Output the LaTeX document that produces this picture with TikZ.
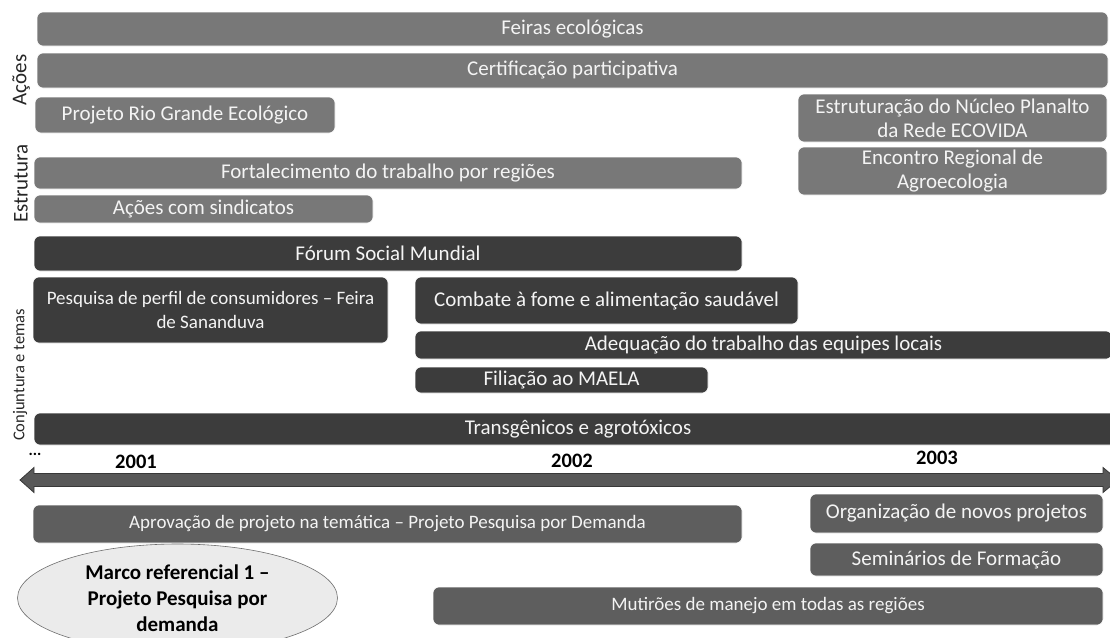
\documentclass[tikz,border=0pt]{standalone}
\usepackage{fontspec}
\setmainfont{Carlito}
\usetikzlibrary{shapes.geometric}

\definecolor{barmid}{HTML}{787878}
\definecolor{bardark}{HTML}{3C3C3C}
\definecolor{barlow}{HTML}{5E5E5E}
\definecolor{bartext}{HTML}{F4F4F4}
\definecolor{axisfill}{HTML}{585858}
\definecolor{axisline}{HTML}{383838}
\definecolor{markfill}{HTML}{EBEBEB}
\definecolor{markline}{HTML}{6E6E6E}

\begin{document}
\begin{tikzpicture}[x=1pt,y=-1pt,
  bar/.style={rectangle, rounded corners=6pt, draw=white, line width=0.6pt,
    inner sep=0pt, text=bartext, align=center,
    font=\fontsize{21}{24}\selectfont},
  smalltext/.style={font=\fontsize{19}{24}\selectfont},
  midbar/.style={bar, fill=barmid},
  darkbar/.style={bar, fill=bardark},
  lowbar/.style={bar, fill=barlow},
  rowlabel/.style={rotate=90, inner sep=0pt, text=black!85,
    font=\fontsize{21}{24}\selectfont},
  year/.style={inner sep=0pt, font=\bfseries\fontsize{20.5}{24}\selectfont},
  milestone/.style={ellipse, inner sep=0pt, fill=markfill, draw=markline,
    line width=0.6pt, align=center,
    font=\bfseries\fontsize{21}{26}\selectfont}]

\useasboundingbox (0,0) rectangle (1110,637);
\clip (0,0) rectangle (1110,637);
\fill[white] (0,0) rectangle (1110,637);

% row labels
\node[rowlabel] (lacoes) at (21,80) {Ações};
\node[rowlabel] (lestr) at (21,183.5) {Estrutura};
\node[rowlabel, font=\fontsize{16.5}{20}\selectfont] (lconj) at (20,375) {Conjuntura e temas};

% Ações
\node[midbar, minimum width=1071pt, minimum height=34pt] (feiras) at (572.5,29) {Feiras ecológicas};
\node[midbar, minimum width=1071pt, minimum height=35pt] (cert) at (572.5,70.5) {Certificação participativa};
\node[midbar, minimum width=300pt, minimum height=36pt] (rio) at (185,115) {Projeto Rio Grande Ecológico};
\node[midbar, minimum width=309pt, minimum height=48pt] (nucleo) at (952.5,118) {Estruturação do Núcleo Planalto\\da Rede ECOVIDA};

% Estrutura
\node[midbar, minimum width=708pt, minimum height=32pt] (fort) at (388,173) {Fortalecimento do trabalho por regiões};
\node[midbar, minimum width=339pt, minimum height=28pt] (sind) at (203.5,209) {Ações com sindicatos};
\node[midbar, minimum width=309pt, minimum height=48pt] (encontro) at (952.5,171) {Encontro Regional de\\Agroecologia};

% Conjuntura e temas
\node[darkbar, minimum width=708pt, minimum height=35pt] (forum) at (388,253.5) {Fórum Social Mundial};
\node[darkbar, smalltext, minimum width=355pt, minimum height=66pt] (pesq) at (210.5,310) {Pesquisa de perfil de consumidores -- Feira\\de Sananduva};
\node[darkbar, minimum width=383pt, minimum height=47pt] (fome) at (606.5,300.5) {Combate à fome e alimentação saudável};
\node[darkbar, minimum width=697pt, minimum height=28pt] (equipes) at (763.5,345) {Adequação do trabalho das equipes locais};
\node[darkbar, minimum width=293pt, minimum height=26pt] (maela) at (561.5,380) {Filiação ao MAELA};
\node[darkbar, minimum width=1088pt, minimum height=32pt] (transg) at (578,429) {Transgênicos e agrotóxicos};

% time axis
\fill[axisfill, draw=axisline, line width=0.8pt]
  (20,480) -- (34,467.5) -- (34,473.5) -- (1103,473.5) -- (1103,467.5)
  -- (1118,480) -- (1103,492.5) -- (1103,486.5) -- (34,486.5) -- (34,492.5) -- cycle;
\node[inner sep=0pt, font=\bfseries\fontsize{16}{18}\selectfont] (dots) at (35,454) {...};
\node[year] (y2001) at (136,462) {2001};
\node[year] (y2002) at (572,461) {2002};
\node[year] (y2003) at (937,458) {2003};

% below the axis
\node[lowbar, smalltext, minimum width=709pt, minimum height=38pt] (aprov) at (387.5,524) {Aprovação de projeto na temática -- Projeto Pesquisa por Demanda};
\node[lowbar, minimum width=293pt, minimum height=39pt] (novos) at (956.5,513.5) {Organização de novos projetos};
\node[lowbar, minimum width=293pt, minimum height=33pt] (semin) at (956.5,559.5) {Seminários de Formação};
\node[lowbar, smalltext, minimum width=670pt, minimum height=38pt] (mutir) at (768,606) {Mutirões de manejo em todas as regiões};
\node[milestone, minimum width=320pt, minimum height=108pt] (marco) at (177.5,598) {Marco referencial 1 --\\Projeto Pesquisa por\\demanda};

\end{tikzpicture}
\end{document}
